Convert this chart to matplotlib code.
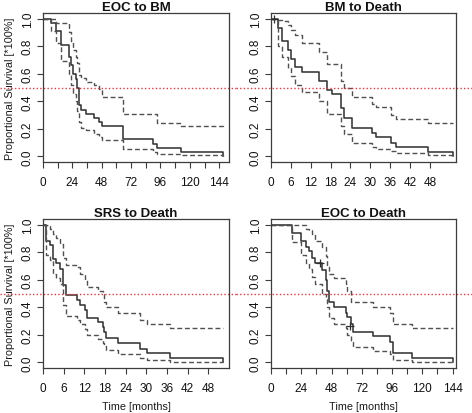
import numpy as np
import matplotlib.pyplot as plt

plt.rcParams['font.family'] = ['Liberation Sans', 'DejaVu Sans']

# EOC to BM
t_eoc_bm = [0, 6.8, 10.9, 15, 21.3, 22.7, 24.6, 26.8, 27.9, 29.5, 31.4, 35, 41.8, 45.9, 48.6, 65, 90, 93.4, 113, 147]
s_eoc_bm = [1.0, 0.97, 0.91, 0.81, 0.72, 0.66, 0.60, 0.56, 0.50, 0.375, 0.34, 0.31, 0.28, 0.25, 0.22, 0.125, 0.09, 0.06, 0.03, 0.0]
u_eoc_bm = [1.0, 1.0, 0.97, 0.97, 0.90, 0.84, 0.77, 0.72, 0.68, 0.59, 0.57, 0.54, 0.52, 0.49, 0.43, 0.31, 0.31, 0.24, 0.22, 0.215]
l_eoc_bm = [1.0, 0.91, 0.82, 0.69, 0.60, 0.52, 0.45, 0.40, 0.33, 0.25, 0.21, 0.19, 0.16, 0.14, 0.12, 0.055, 0.035, 0.02, 0.008, 0.0]

# BM to Death
t_bm_d = [0, 2.0, 3.2, 5.1, 6.1, 7.3, 9.3, 14.4, 16.9, 18.4, 21.3, 22.0, 24.5, 30.6, 31.6, 36.2, 37.7, 47.3, 54.9]
s_bm_d = [1.0, 0.93, 0.84, 0.77, 0.71, 0.65, 0.61, 0.55, 0.48, 0.45, 0.35, 0.28, 0.21, 0.17, 0.14, 0.10, 0.07, 0.035, 0.0]
u_bm_d = [1.0, 0.99, 0.98, 0.95, 0.92, 0.88, 0.82, 0.76, 0.67, 0.67, 0.55, 0.50, 0.43, 0.38, 0.36, 0.30, 0.27, 0.24, 0.24]
l_bm_d = [1.0, 0.80, 0.72, 0.64, 0.58, 0.52, 0.47, 0.40, 0.31, 0.31, 0.22, 0.16, 0.10, 0.07, 0.055, 0.04, 0.025, 0.01, 0.0]
cens_bm_d = ([1.0], [1.0])

# SRS to Death
t_srs_d = [0, 0.8, 1.9, 2.9, 3.9, 4.8, 5.8, 6.8, 9.9, 10.7, 12.1, 12.8, 16.0, 17.3, 17.7, 18.2, 21.8, 28.1, 30.1, 37.0, 52.4]
s_srs_d = [1.0, 0.88, 0.85, 0.75, 0.72, 0.68, 0.56, 0.49, 0.45, 0.42, 0.38, 0.32, 0.29, 0.26, 0.22, 0.18, 0.14, 0.10, 0.07, 0.03, 0.0]
u_srs_d = [1.0, 1.0, 0.97, 0.93, 0.90, 0.86, 0.76, 0.71, 0.69, 0.64, 0.60, 0.55, 0.52, 0.50, 0.44, 0.40, 0.36, 0.31, 0.28, 0.25, 0.25]
l_srs_d = [1.0, 0.78, 0.74, 0.64, 0.61, 0.57, 0.42, 0.34, 0.31, 0.28, 0.24, 0.20, 0.17, 0.14, 0.12, 0.09, 0.06, 0.03, 0.015, 0.005, 0.0]

# EOC to Death
t_eoc_d = [0, 17, 23.5, 27.4, 30, 32.9, 34.5, 40.6, 43.3, 44.6, 46, 50, 59.2, 60.6, 63.2, 65, 80.5, 94.5, 96.5, 111.6, 144]
s_eoc_d = [1.0, 0.94, 0.88, 0.84, 0.81, 0.76, 0.72, 0.67, 0.60, 0.52, 0.44, 0.40, 0.36, 0.33, 0.28, 0.22, 0.19, 0.15, 0.07, 0.03, 0.0]
u_eoc_d = [1.0, 1.0, 1.0, 0.97, 0.96, 0.93, 0.88, 0.84, 0.77, 0.70, 0.64, 0.61, 0.57, 0.52, 0.44, 0.44, 0.40, 0.36, 0.28, 0.25, 0.25]
l_eoc_d = [1.0, 0.87, 0.78, 0.72, 0.68, 0.62, 0.57, 0.50, 0.46, 0.40, 0.32, 0.28, 0.25, 0.20, 0.15, 0.11, 0.08, 0.06, 0.02, 0.005, 0.0]
cens_eoc_d = ([39, 63], [0.72, 0.265])

panels = [
    ("EOC to BM", t_eoc_bm, s_eoc_bm, u_eoc_bm, l_eoc_bm, None, 152, 12, 24),
    ("BM to Death", t_bm_d, s_bm_d, u_bm_d, l_bm_d, cens_bm_d, 55.9, 6, 6),
    ("SRS to Death", t_srs_d, s_srs_d, u_srs_d, l_srs_d, None, 54.0, 6, 6),
    ("EOC to Death", t_eoc_d, s_eoc_d, u_eoc_d, l_eoc_d, cens_eoc_d, 146.7, 12, 24),
]

W, H = 472, 414
boxes = [(43, 14, 229, 163), (271, 14, 456, 163), (43, 220, 229, 369), (271, 220, 456, 369)]
regions = [(0, 236), (236, 472), (0, 236), (236, 472)]

fig = plt.figure(figsize=(W / 100, H / 100), dpi=100)
axc = '#3c3c3c'

for i, (title, t, s, u, l, cens, xmax, step, lstep) in enumerate(panels):
    x0, y0, x1, y1 = boxes[i]
    ax = fig.add_axes([x0 / W, 1 - y1 / H, (x1 - x0) / W, (y1 - y0) / H])
    ax.step(t, s, where='post', color='#2e2e2e', lw=1.1)
    ax.step(t, u, where='post', color='#505050', lw=1.0, dashes=(3.5, 2))
    ax.step(t, l, where='post', color='#505050', lw=1.0, dashes=(3.5, 2))
    if cens is not None:
        ax.plot(cens[0], cens[1], ls='none', marker='+', ms=6, mew=0.9, color='#2e2e2e')
    r0, r1 = regions[i]
    ax.axhline(0.5, xmin=(r0 - x0) / (x1 - x0), xmax=(r1 - x0) / (x1 - x0),
               color='#e8383d', lw=1.0, dashes=(1, 1.6), clip_on=False)
    ax.set_xlim(0, xmax)
    ax.set_ylim(-0.04, 1.04)
    ticks = np.arange(0, xmax - 2, step)
    ax.set_xticks(ticks)
    ax.set_xticklabels([str(int(v)) if v % lstep == 0 else '' for v in ticks])
    ax.set_yticks([0, 0.2, 0.4, 0.6, 0.8, 1.0])
    ax.set_yticklabels(['0.0', '0.2', '0.4', '0.6', '0.8', '1.0'], rotation=90, va='center')
    ax.tick_params(axis='both', length=4.5, width=0.8, color=axc, labelsize=8.5, labelcolor='#111111')
    ax.tick_params(axis='x', pad=5.5)
    ax.tick_params(axis='y', pad=2.0)
    for sp in ax.spines.values():
        sp.set_color(axc)
        sp.set_linewidth(0.9)
    ax.set_title(title, fontsize=9.5, fontweight='bold', pad=2.5, color='#111111')
    if i in (0, 2):
        ax.set_ylabel("Proportional Survival [*100%]", fontsize=7.8, color='#1a1a1a')
        ax.yaxis.set_label_coords(-33 / (x1 - x0), 0.5)
        ax.yaxis.label.set_va('center')
    if i in (2, 3):
        ax.set_xlabel("Time [months]", fontsize=7.8, color='#1a1a1a')
        ax.xaxis.set_label_coords(0.5, -38 / (y1 - y0))
        ax.xaxis.label.set_va('center')

fig.savefig('out.png', dpi=100)
